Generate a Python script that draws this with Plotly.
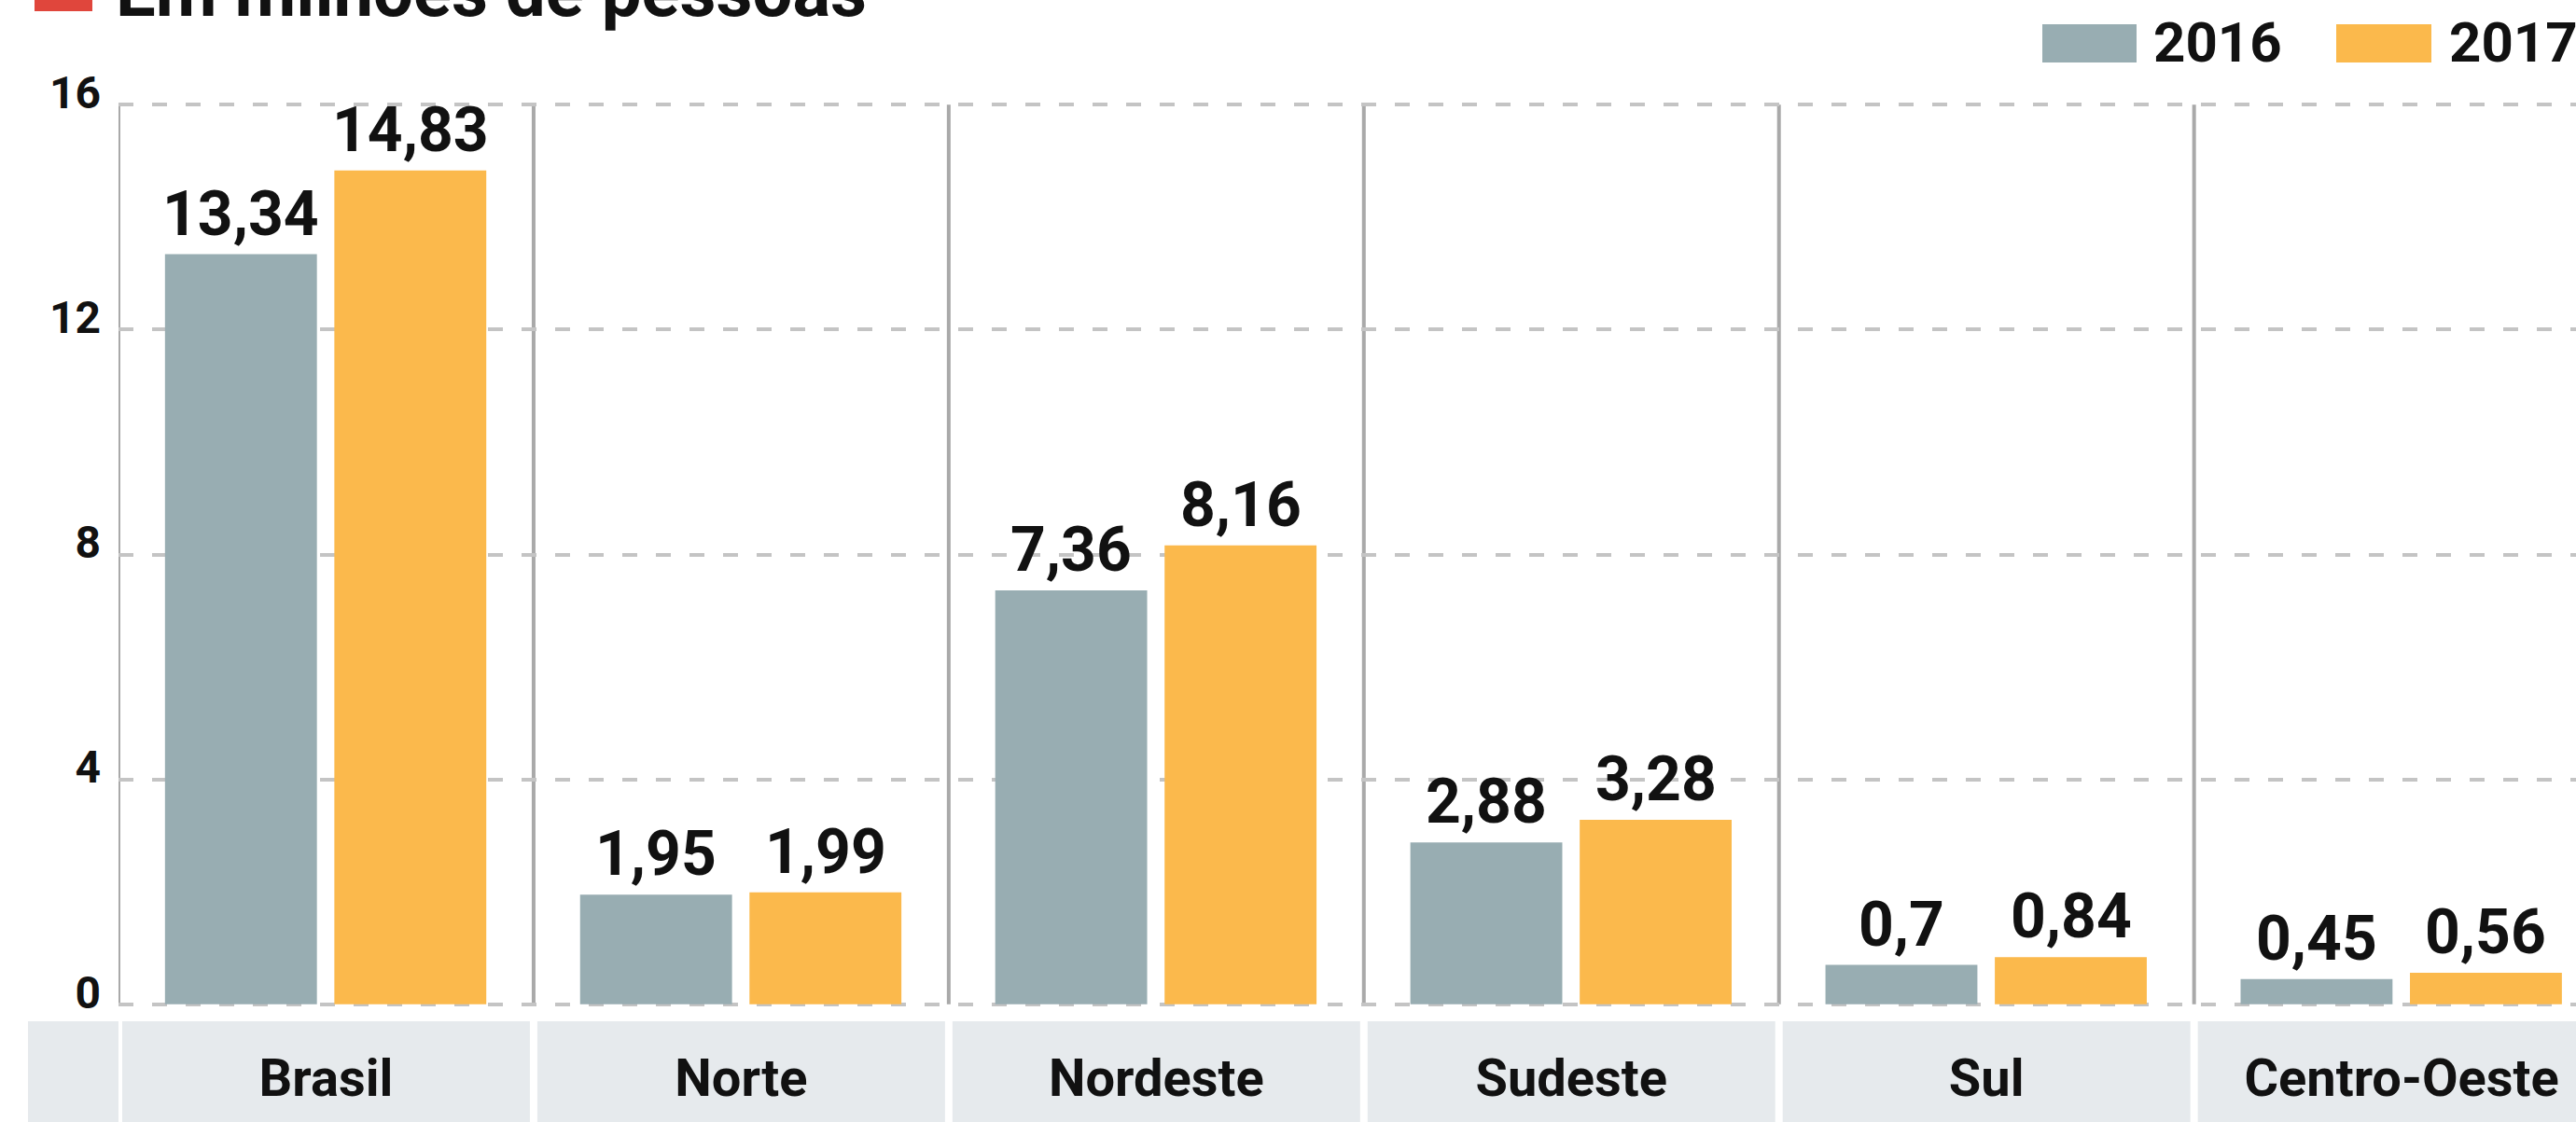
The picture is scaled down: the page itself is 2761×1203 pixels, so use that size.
import plotly.graph_objects as go

# ---- data ----
categories = ["Brasil", "Norte", "Nordeste", "Sudeste", "Sul", "Centro-Oeste"]
years = ["2016", "2017"]
values_2016 = [13.34, 1.95, 7.36, 2.88, 0.7, 0.45]
values_2017 = [14.83, 1.99, 8.16, 3.28, 0.84, 0.56]
y_ticks = [0, 4, 8, 12, 16]
title_text = "Em milhões de pessoas"

# ---- style ----
W, H = 2761, 1203
ML, MR, MT, MB = 127, 0, 111, 125
GRAY = "#98adb2"
ORANGE = "#fbb94c"
RED = "#e0463c"
BAND = "#e6eaed"
FONT = "Roboto"
X_RANGE = [-0.5, 5.42]
Y_RANGE = [-0.02, 16.02]
BAR_W = 0.366
OFFSETS = [-0.388, 0.020]

pw, ph = W - ML - MR, H - MT - MB


def px(x):
    return (x - ML) / pw


def py(y):
    return (H - MB - y) / ph


def fmt(v):
    return (f"{v:g}").replace(".", ",")


fig = go.Figure()
series = [values_2016, values_2017]
colors = [GRAY, ORANGE]
for name, vals, col, off in zip(years, series, colors, OFFSETS):
    fig.add_trace(go.Bar(
        x=categories, y=vals, name=name, marker_color=col,
        marker_line_width=0, width=BAR_W, offset=off, showlegend=False,
        hoverinfo="x+y",
    ))

annotations = []
for vals, off in zip(series, OFFSETS):
    for i, v in enumerate(vals):
        annotations.append(dict(
            x=i + off + BAR_W / 2, y=v, xref="x", yref="y",
            text=fmt(v), showarrow=False, yanchor="bottom", xanchor="center",
            font=dict(family=FONT, size=66, color="#111111", weight="bold"),
            yshift=3,
        ))

# title
annotations.append(dict(
    x=px(122), y=py(38), xref="paper", yref="paper", text=title_text,
    showarrow=False, xanchor="left", yanchor="bottom",
    font=dict(family=FONT, size=76, color="#111111", weight="bold"),
))
# legend texts
for name, xl in zip(years, [2306, 2623]):
    annotations.append(dict(
        x=px(xl), y=py(46), xref="paper", yref="paper", text=name,
        showarrow=False, xanchor="left", yanchor="middle",
        font=dict(family=FONT, size=60, color="#111111", weight="bold"),
    ))

shapes = []
# title square
shapes.append(dict(type="rect", xref="paper", yref="paper",
                   x0=px(37), x1=px(99), y0=py(-20), y1=py(12),
                   fillcolor=RED, line_width=0, layer="above"))
# legend swatches
for col, (x0, x1) in zip(colors, [(2189, 2290), (2504, 2606)]):
    shapes.append(dict(type="rect", xref="paper", yref="paper",
                       x0=px(x0), x1=px(x1), y0=py(67), y1=py(26),
                       fillcolor=col, line_width=0, layer="above"))
# category band
shapes.append(dict(type="rect", xref="paper", yref="paper",
                   x0=px(30), x1=px(W + 5), y0=py(1095), y1=py(H + 5),
                   fillcolor=BAND, line_width=0, layer="below"))
# dividers
for i in range(len(categories)):
    b = i - 0.5
    shapes.append(dict(type="line", xref="x", yref="y", x0=b, x1=b,
                       y0=0, y1=y_ticks[-1], line=dict(color="#a9a9a9", width=4),
                       layer="below"))
    shapes.append(dict(type="line", xref="x", yref="paper", x0=b, x1=b,
                       y0=py(1095), y1=py(H + 5), line=dict(color="white", width=8),
                       layer="below"))

fig.update_layout(
    width=W, height=H,
    margin=dict(l=ML, r=MR, t=MT, b=MB, pad=0),
    paper_bgcolor="white", plot_bgcolor="white",
    barmode="overlay",
    showlegend=False,
    annotations=annotations,
    shapes=shapes,
    xaxis=dict(
        range=X_RANGE, showgrid=False, zeroline=False, showline=False,
        ticks="", ticklabelstandoff=40, automargin=False,
        tickfont=dict(family=FONT, size=56, color="#111111", weight="bold"),
    ),
    yaxis=dict(
        range=Y_RANGE, tickvals=y_ticks, ticktext=[str(t) for t in y_ticks],
        showgrid=True, gridcolor="#c4c4c4", gridwidth=4, griddash="16px,20px",
        zeroline=False, showline=False, ticks="", ticklabelstandoff=18,
        ticklabelshift=-13, automargin=False,
        tickfont=dict(family=FONT, size=48, color="#111111", weight="bold"),
    ),
)

fig.write_html(
    "out.html",
    config={"displayModeBar": False},
    post_script="document.body.style.margin='0';document.body.style.overflow='hidden';",
)
